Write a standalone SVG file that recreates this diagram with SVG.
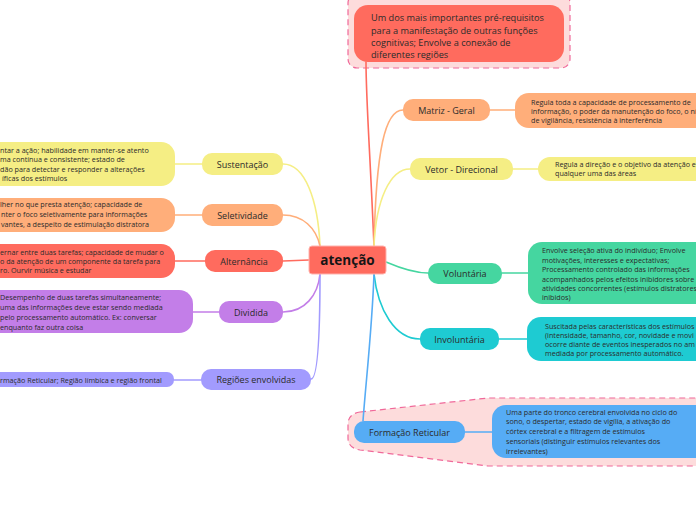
<svg xmlns="http://www.w3.org/2000/svg" width="696" height="520" viewBox="0 0 696 520">
<style>
text{font-family:"Open Sans","Noto Sans","Liberation Sans",sans-serif;fill:#2b2b2b}
.lbl{font-size:9px;text-anchor:middle;dominant-baseline:central}
.det{font-size:7.2px}
.sum{font-size:9.2px}
.c{fill:none;stroke-width:1.6;stroke-linecap:round}
.bd{fill:#fddcdc;stroke:#f0699a;stroke-width:1.2;stroke-dasharray:6 4}
</style>
<rect width="696" height="520" fill="#ffffff"/>
<rect class="bd" x="348" y="-6" width="222" height="74" rx="9"/>
<path class="bd" d="M360 412 L488 398 L702 398 L702 466 L488 466 L360 450 Q348 448 348 438 L348 424 Q348 414 360 412 Z"/>
<g id="connectors">
<path class="c" stroke="#f5ee84" d="M283 164 C305 164 318 200 320 246"/>
<path class="c" stroke="#ffae7a" d="M283 215 C303 215 316 228 320 246"/>
<path class="c" stroke="#ff6b5e" d="M283 261 L309 260"/>
<path class="c" stroke="#c37ee8" d="M283 312 C305 312 318 295 320 274"/>
<path class="c" stroke="#a29bfe" d="M311 379 C318 379 320 330 320 274"/>
<path class="c" stroke="#ff6b5e" d="M374 246 C370 150 366 100 366 62"/>
<path class="c" stroke="#ffae7a" d="M374 246 C376 150 385 110 403 110"/>
<path class="c" stroke="#f5ee84" d="M374 246 C376 200 390 169 410 169"/>
<path class="c" stroke="#45d6a0" d="M386 262 C400 268 415 273 428 273"/>
<path class="c" stroke="#1ecbd2" d="M374 274 C378 310 395 339 420 339"/>
<path class="c" stroke="#56acf5" d="M374 274 C372 330 366 380 363 421"/>
<path class="c" stroke="#f5ee84" d="M202 164 L175 164"/>
<path class="c" stroke="#ffae7a" d="M202 215 L175 215"/>
<path class="c" stroke="#ff6b5e" d="M205 261 L175 261"/>
<path class="c" stroke="#c37ee8" d="M219 312 L193 312"/>
<path class="c" stroke="#a29bfe" d="M201 380 L174 380"/>
<path class="c" stroke="#ffae7a" d="M490 110 L515 110"/>
<path class="c" stroke="#f5ee84" d="M513 169 L538 169"/>
<path class="c" stroke="#45d6a0" d="M502 273 L528 273"/>
<path class="c" stroke="#1ecbd2" d="M499 339 L527 339"/>
<path class="c" stroke="#56acf5" d="M465 432 L492 432"/>
</g>
<g id="central">
<rect x="309" y="246" width="77" height="28" rx="3" fill="#ff6b5e" stroke="#ffb3ad" stroke-width="1"/>
<text x="347.5" y="260" style="font-size:13.5px;font-weight:bold;text-anchor:middle;dominant-baseline:central;fill:#151515">atenção</text>
</g>
<g id="summary-top">
<rect x="354" y="5" width="210" height="57" rx="14" fill="#ff6b5e"/>
<text class="sum" x="371" y="21">Um dos mais importantes pré-requisitos</text>
<text class="sum" x="371" y="33.5">para a manifestação de outras funções</text>
<text class="sum" x="371" y="46">cognitivas; Envolve a conexão de</text>
<text class="sum" x="371" y="58">diferentes regiões</text>
</g>
<g id="matriz">
<rect x="403" y="99" width="87" height="22" rx="10" fill="#ffae7a"/>
<text class="lbl" x="446.5" y="110">Matriz - Geral</text>
</g>
<g id="matriz-det">
<rect x="515" y="93" width="200" height="35" rx="14" fill="#ffae7a"/>
<text class="det" x="531" y="105">Regula toda a capacidade de processamento de</text>
<text class="det" x="531" y="114">informação, o poder da manutenção do foco, o ní</text>
<text class="det" x="531" y="123">de vigilância, resistência à interferência</text>
</g>
<g id="vetor">
<rect x="410" y="158" width="103" height="22" rx="10" fill="#f5ee84"/>
<text class="lbl" x="461.5" y="169">Vetor - Direcional</text>
</g>
<g id="vetor-det">
<rect x="538" y="157" width="180" height="24" rx="12" fill="#f5ee84"/>
<text class="det" x="555" y="166.5">Regula a direção e o objetivo da atenção e</text>
<text class="det" x="555" y="176">qualquer uma das áreas</text>
</g>
<g id="voluntaria">
<rect x="428" y="263" width="74" height="21" rx="10" fill="#45d6a0"/>
<text class="lbl" x="465" y="273.5">Voluntária</text>
</g>
<g id="voluntaria-det">
<rect x="528" y="242" width="190" height="62" rx="14" fill="#45d6a0"/>
<text class="det" x="542" y="253">Envolve seleção ativa do indivíduo; Envolve</text>
<text class="det" x="542" y="262.5">motivações, interesses e expectativas;</text>
<text class="det" x="542" y="272">Processamento controlado das informações</text>
<text class="det" x="542" y="281.5">acompanhados pelos efeitos inibidores sobre</text>
<text class="det" x="542" y="291">atividades concorrentes (estímulos distratores</text>
<text class="det" x="542" y="300">inibidos)</text>
</g>
<g id="involuntaria">
<rect x="420" y="328" width="79" height="22" rx="10" fill="#1ecbd2"/>
<text class="lbl" x="459.5" y="339">Involuntária</text>
</g>
<g id="involuntaria-det">
<rect x="527" y="317" width="190" height="44" rx="14" fill="#1ecbd2"/>
<text class="det" x="545" y="329">Suscitada pelas características dos estímulos</text>
<text class="det" x="545" y="338">(intensidade, tamanho, cor, novidade e movi</text>
<text class="det" x="545" y="347">ocorre diante de eventos inesperados no am</text>
<text class="det" x="545" y="356">mediada por processamento automático.</text>
</g>
<g id="formacao">
<rect x="354" y="421" width="111" height="22" rx="10" fill="#56acf5"/>
<text class="lbl" x="409.5" y="432">Formação Reticular</text>
</g>
<g id="formacao-det">
<rect x="492" y="405" width="220" height="53" rx="14" fill="#56acf5"/>
<text class="det" x="506" y="414.5">Uma parte do tronco cerebral envolvida no ciclo do</text>
<text class="det" x="506" y="424">sono, o despertar, estado de vigília, a ativação do</text>
<text class="det" x="506" y="434">córtex cerebral e a filtragem de estímulos</text>
<text class="det" x="506" y="443.5">sensoriais (distinguir estímulos relevantes dos</text>
<text class="det" x="506" y="453.5">irrelevantes)</text>
</g>
<g id="sustentacao">
<rect x="202" y="153" width="81" height="22" rx="10" fill="#f5ee84"/>
<text class="lbl" x="242.5" y="164">Sustentação</text>
</g>
<g id="sustentacao-det">
<rect x="-30" y="142" width="205" height="44" rx="14" fill="#f5ee84"/>
<text class="det" x="0" y="153">ntar a ação; habilidade em manter-se atento</text>
<text class="det" x="0" y="162">ma contínua e consistente; estado de</text>
<text class="det" x="0" y="171.5">dão para detectar e responder a alterações</text>
<text class="det" x="2" y="181">íficas dos estímulos</text>
</g>
<g id="seletividade">
<rect x="202" y="204" width="81" height="22" rx="10" fill="#ffae7a"/>
<text class="lbl" x="242.5" y="215">Seletividade</text>
</g>
<g id="seletividade-det">
<rect x="-30" y="198" width="205" height="34" rx="14" fill="#ffae7a"/>
<text class="det" x="0" y="207">lher no que presta atenção; capacidade de</text>
<text class="det" x="1" y="216.5">nter o foco seletivamente para informações</text>
<text class="det" x="1" y="226.5">vantes, a despeito de estimulação distratora</text>
</g>
<g id="alternancia">
<rect x="205" y="250" width="78" height="22" rx="10" fill="#ff6b5e"/>
<text class="lbl" x="244" y="261">Alternância</text>
</g>
<g id="alternancia-det">
<rect x="-30" y="244" width="205" height="34" rx="14" fill="#ff6b5e"/>
<text class="det" x="0" y="254.5">ernar entre duas tarefas; capacidade de mudar o</text>
<text class="det" x="0" y="264">o da atenção de um componente da tarefa para</text>
<text class="det" x="0" y="273">ro. Ourvir música e estudar</text>
</g>
<g id="dividida">
<rect x="219" y="301" width="64" height="22" rx="10" fill="#c37ee8"/>
<text class="lbl" x="251" y="312">Dividida</text>
</g>
<g id="dividida-det">
<rect x="-30" y="290" width="223" height="43" rx="14" fill="#c37ee8"/>
<text class="det" x="0" y="300">Desempenho de duas tarefas simultaneamente;</text>
<text class="det" x="0" y="310">uma das informações deve estar sendo mediada</text>
<text class="det" x="0" y="320">pelo processamento automático. Ex: conversar</text>
<text class="det" x="0" y="330">enquanto faz outra coisa</text>
</g>
<g id="regioes">
<rect x="201" y="369" width="110" height="21" rx="10" fill="#a29bfe"/>
<text class="lbl" x="256" y="379.5">Regiões envolvidas</text>
</g>
<g id="regioes-det">
<rect x="-30" y="372" width="204" height="15" rx="7" fill="#a29bfe"/>
<text class="det" x="0" y="382.5">rmação Reticular; Região límbica e região frontal</text>
</g>
</svg>
